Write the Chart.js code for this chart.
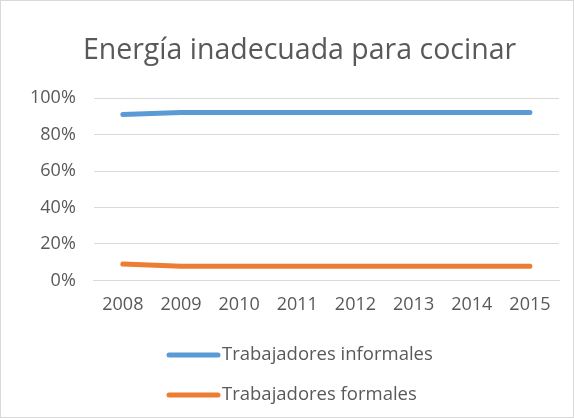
<!DOCTYPE html>
<html>
<head>
<meta charset="utf-8">
<script src="https://cdn.jsdelivr.net/npm/chart.js@4/dist/chart.umd.min.js"></script>
<style>
  html, body { margin: 0; padding: 0; background: #fff; }
  #wrap { position: relative; width: 572px; height: 416px; border: 1px solid #d9d9d9; }
</style>
</head>
<body>
<div id="wrap"><canvas id="chart" width="572" height="416"></canvas></div>
<script>
const years = ['2008', '2009', '2010', '2011', '2012', '2013', '2014', '2015'];
const informales = [0.91, 0.922, 0.922, 0.922, 0.922, 0.922, 0.922, 0.922];
const formales = [0.09, 0.077, 0.077, 0.077, 0.077, 0.077, 0.077, 0.077];
const titleText = 'Energía inadecuada para cocinar';
const txt = '#595959';
const font = "'Open Sans', sans-serif";

// Excel style legend: one entry per row, centred under the plot
const stackedLegend = {
  id: 'stackedLegend',
  afterLayout(chart) {
    // Excel centres the title a little right of the canvas middle
    const t = chart.titleBlock;
    if (t) { t.left += 14; t.right += 14; }
  },
  afterDraw(chart) {
    const ctx = chart.ctx;
    const items = chart.data.datasets;
    const x0 = 168, lineW = 49, top = 354, gap = 40;
    ctx.save();
    ctx.font = '18.5px ' + font;
    ctx.textBaseline = 'middle';
    items.forEach((ds, i) => {
      const y = top + i * gap;
      ctx.strokeStyle = ds.borderColor;
      ctx.lineWidth = 5;
      ctx.lineCap = 'round';
      ctx.beginPath();
      ctx.moveTo(x0, y);
      ctx.lineTo(x0 + lineW, y);
      ctx.stroke();
      ctx.fillStyle = txt;
      ctx.fillText(ds.label, x0 + lineW + 4, y);
    });
    ctx.restore();
  }
};

new Chart(document.getElementById('chart'), {
  type: 'line',
  data: {
    labels: years,
    datasets: [
      { label: 'Trabajadores informales', data: informales, borderColor: '#5b9bd5', backgroundColor: '#5b9bd5',
        borderWidth: 5, pointRadius: 0, borderCapStyle: 'round', borderJoinStyle: 'round' },
      { label: 'Trabajadores formales', data: formales, borderColor: '#ed7d31', backgroundColor: '#ed7d31',
        borderWidth: 5, pointRadius: 0, borderCapStyle: 'round', borderJoinStyle: 'round' }
    ]
  },
  options: {
    responsive: false,
    animation: false,
    layout: { padding: { left: 11, right: 14, bottom: 87 } },
    plugins: {
      legend: { display: false },
      tooltip: { enabled: false },
      title: {
        display: true, text: titleText, color: txt,
        font: { family: font, size: 28.5, weight: 'normal' },
        padding: { top: 33, bottom: 30 }
      }
    },
    scales: {
      x: {
        offset: true,
        grid: { display: false, drawTicks: false },
        border: { color: '#d9d9d9' },
        ticks: { color: txt, font: { family: font, size: 18 }, padding: 14, maxRotation: 0 }
      },
      y: {
        min: 0, max: 1,
        grid: { color: '#d9d9d9', drawTicks: false },
        border: { display: false },
        ticks: {
          stepSize: 0.2, color: txt, font: { family: font, size: 18 }, padding: 18,
          callback: (v) => Math.round(v * 100) + '%'
        }
      }
    }
  },
  plugins: [stackedLegend]
});
</script>
</body>
</html>
